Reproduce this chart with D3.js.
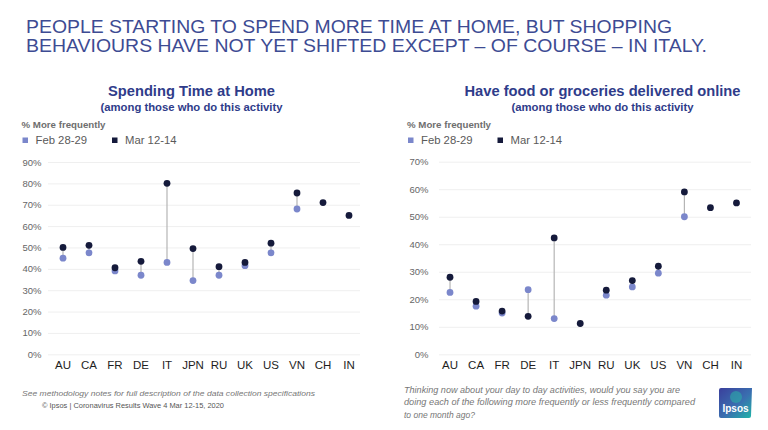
<!DOCTYPE html>
<html>
<head>
<meta charset="utf-8">
<script src="https://cdn.jsdelivr.net/npm/d3@7"></script>
<style>
  html, body { margin: 0; padding: 0; background: #ffffff; }
  svg { display: block; font-family: "Liberation Sans", Arial, Helvetica, sans-serif; }
</style>
</head>
<body>
<svg id="chart" width="768" height="430"></svg>
<script>
const categories = ["AU", "CA", "FR", "DE", "IT", "JPN", "RU", "UK", "US", "VN", "CH", "IN"];
const seriesNames = ["Feb 28-29", "Mar 12-14"];

// Spending Time at Home (% more frequently)
const homeFeb = [45, 47.5, 39, 37, 43, 34.5, 37, 41.5, 47.5, 68, null, null];
const homeMar = [50, 51, 40.5, 43.5, 80, 49.5, 41, 43, 52, 75.5, 71, 65];
const homeTicks = [0, 10, 20, 30, 40, 50, 60, 70, 80, 90];

// Have food or groceries delivered online (% more frequently)
const foodFeb = [22.5, 17.5, 15, 23.5, 13, null, 21.5, 24.5, 29.5, 50, null, null];
const foodMar = [28, 19.2, 15.7, 13.8, 42.3, 11.2, 23.3, 26.8, 32, 59, 53.3, 55];
const foodTicks = [0, 10, 20, 30, 40, 50, 60, 70];

const titleLines = [
  "PEOPLE STARTING TO SPEND MORE TIME AT HOME, BUT SHOPPING",
  "BEHAVIOURS HAVE NOT YET SHIFTED EXCEPT \u2013 OF COURSE \u2013 IN ITALY."
];

const COL_FEB = "#7b87cb";
const COL_MAR = "#151a3b";
const COL_TITLE = "#3d4b93";
const COL_SUB = "#2f3c8a";

const svg = d3.select("#chart");

// Main title
svg.append("text").attr("x", 26).attr("y", 32.5)
  .attr("font-size", 19).attr("fill", COL_TITLE)
  .attr("textLength", 646).attr("lengthAdjust", "spacingAndGlyphs")
  .text(titleLines[0]);
svg.append("text").attr("x", 26).attr("y", 51.5)
  .attr("font-size", 19).attr("fill", COL_TITLE)
  .attr("textLength", 681).attr("lengthAdjust", "spacingAndGlyphs")
  .text(titleLines[1]);

function panel(opts) {
  const g = svg.append("g");
  const x = d3.scaleBand().domain(categories).range([opts.x0, opts.x1]).padding(0);
  const y = d3.scaleLinear().domain([0, opts.max]).range([354.3, opts.yTop]);

  // Titles
  g.append("text").attr("x", opts.cx).attr("y", 96).attr("text-anchor", "middle")
    .attr("font-size", 14.5).attr("font-weight", "bold").attr("fill", COL_SUB)
    .attr("textLength", opts.titleW).attr("lengthAdjust", "spacingAndGlyphs")
    .text(opts.title);
  g.append("text").attr("x", opts.cx).attr("y", 110.5).attr("text-anchor", "middle")
    .attr("font-size", 11.3).attr("font-weight", "bold").attr("fill", COL_SUB)
    .attr("textLength", 182).attr("lengthAdjust", "spacingAndGlyphs")
    .text("(among those who do this activity");

  // Axis label
  g.append("text").attr("x", opts.lx).attr("y", 127.5)
    .attr("font-size", 9.3).attr("font-weight", "bold").attr("fill", "#6e6e6e")
    .attr("textLength", 84).attr("lengthAdjust", "spacingAndGlyphs")
    .text("% More frequently");

  // Legend
  const legX = [opts.lx + 1, opts.lx + 90.5];
  const legCol = [COL_FEB, COL_MAR];
  seriesNames.forEach((n, i) => {
    g.append("rect").attr("x", legX[i]).attr("y", 137.5).attr("width", 5.5).attr("height", 5.5)
      .attr("fill", legCol[i]);
    g.append("text").attr("x", legX[i] + 13).attr("y", 143.5)
      .attr("font-size", 11.3).attr("fill", "#5a5a5a").text(n);
  });

  // Gridlines
  g.append("g").selectAll("line").data(opts.ticks).join("line")
    .attr("x1", opts.gx0).attr("x2", opts.gx1)
    .attr("y1", d => y(d) + 0.5).attr("y2", d => y(d) + 0.5)
    .attr("stroke", "#efefef").attr("stroke-width", 1);

  // Y axis
  const yAxis = d3.axisLeft(y).tickValues(opts.ticks).tickFormat(d => d + "%").tickSize(0).tickPadding(0);
  const ya = g.append("g").attr("transform", `translate(${opts.yLabelX},0)`).call(yAxis);
  ya.select(".domain").remove();
  ya.selectAll("text").attr("font-size", 9.5).attr("fill", "#666666")
    .attr("font-family", "'Liberation Sans', Arial, sans-serif");

  // X axis
  const xAxis = d3.axisBottom(x).tickSize(0).tickPadding(0);
  const xa = g.append("g").attr("transform", "translate(0,361)").call(xAxis);
  xa.select(".domain").remove();
  xa.selectAll("text").attr("font-size", 11.5).attr("fill", "#1e1e1e")
    .attr("font-family", "'Liberation Sans', Arial, sans-serif");

  const rows = categories.map((c, i) => ({ c, feb: opts.feb[i], mar: opts.mar[i] }));
  const cx = d => x(d.c) + x.bandwidth() / 2;

  // Connectors
  g.append("g").selectAll("line").data(rows.filter(d => d.feb != null && d.mar != null)).join("line")
    .attr("x1", cx).attr("x2", cx)
    .attr("y1", d => y(d.feb)).attr("y2", d => y(d.mar))
    .attr("stroke", "#b5b5b5").attr("stroke-width", 1.2);

  // Dots
  g.append("g").selectAll("circle").data(rows.filter(d => d.feb != null)).join("circle")
    .attr("cx", cx).attr("cy", d => y(d.feb)).attr("r", 3.4).attr("fill", COL_FEB);
  g.append("g").selectAll("circle").data(rows.filter(d => d.mar != null)).join("circle")
    .attr("cx", cx).attr("cy", d => y(d.mar)).attr("r", 3.4).attr("fill", COL_MAR);
}

panel({
  title: "Spending Time at Home", titleW: 167, cx: 191.5, lx: 21.5,
  x0: 50, x1: 362, gx0: 48, gx1: 360, yLabelX: 41.5,
  max: 90, yTop: 162, ticks: homeTicks, feb: homeFeb, mar: homeMar
});
panel({
  title: "Have food or groceries delivered online", titleW: 276, cx: 602.5, lx: 407,
  x0: 437, x1: 749.5, gx0: 439, gx1: 751, yLabelX: 428.5,
  max: 70, yTop: 161.7, ticks: foodTicks, feb: foodFeb, mar: foodMar
});

// Footnotes
svg.append("text").attr("x", 22).attr("y", 396).attr("font-size", 8).attr("font-style", "italic")
  .attr("fill", "#777777").attr("textLength", 293).attr("lengthAdjust", "spacingAndGlyphs")
  .text("See methodology notes for full description of the data collection specifications");
svg.append("text").attr("x", 42).attr("y", 408).attr("font-size", 7.5)
  .attr("fill", "#555555").attr("textLength", 182).attr("lengthAdjust", "spacingAndGlyphs")
  .text("\u00A9 Ipsos | Coronavirus Results Wave 4 Mar 12-15, 2020");

const rightNote = [
  ["Thinking now about your day to day activities, would you say you are", 276],
  ["doing each of the following more frequently or less frequently compared", 291],
  ["to one month ago?", null]
];
rightNote.forEach((l, i) => {
  const t = svg.append("text").attr("x", 404).attr("y", 392.5 + i * 12.5).attr("font-size", 8.5)
    .attr("font-style", "italic").attr("fill", "#777777").text(l[0]);
  if (l[1]) t.attr("textLength", l[1]).attr("lengthAdjust", "spacingAndGlyphs");
});

// Ipsos logo
const defs = svg.append("defs");
const grad = defs.append("linearGradient").attr("id", "ipsosGrad")
  .attr("x1", "0%").attr("y1", "0%").attr("x2", "100%").attr("y2", "100%");
grad.append("stop").attr("offset", "0%").attr("stop-color", "#3a3f9c");
grad.append("stop").attr("offset", "55%").attr("stop-color", "#3a6fb0");
grad.append("stop").attr("offset", "100%").attr("stop-color", "#1fb5a8");
const logo = svg.append("g").attr("transform", "translate(719,388)");
logo.append("path").attr("d", "M0,2 Q0,0 2,0 L33,0 L32,28 Q32,30 30,30 L2,30 Q0,30 0,28 Z")
  .attr("fill", "url(#ipsosGrad)");
logo.append("circle").attr("cx", 17).attr("cy", 9).attr("r", 6).attr("fill", "#2ab3a8").attr("opacity", 0.55);
logo.append("text").attr("x", 16.5).attr("y", 23.5).attr("text-anchor", "middle")
  .attr("font-size", 10).attr("font-weight", "bold").attr("fill", "#ffffff").text("Ipsos");
</script>
</body>
</html>
